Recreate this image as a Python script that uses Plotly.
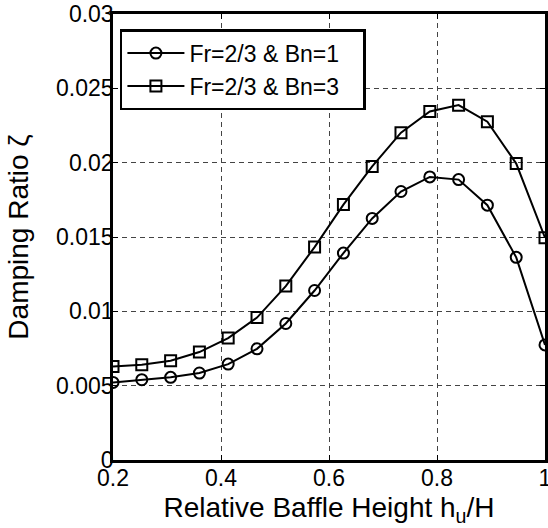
import plotly.graph_objects as go

# relative baffle height h_u/H
baffle_height = [0.2, 0.2533, 0.3067, 0.36, 0.4133, 0.4667, 0.52, 0.5733,
                 0.6267, 0.68, 0.7333, 0.7867, 0.84, 0.8933, 0.9467, 1.0]

# damping ratio, Fr=2/3 & Bn=1
damping_bn1 = [0.00522, 0.00540, 0.00556, 0.00585, 0.00645, 0.00748, 0.00918, 0.01140,
               0.01392, 0.01625, 0.01806, 0.01904, 0.01886, 0.01714, 0.01363, 0.00774]

# damping ratio, Fr=2/3 & Bn=3
damping_bn3 = [0.00629, 0.00640, 0.00668, 0.00726, 0.00820, 0.00958, 0.01170, 0.01432,
               0.01718, 0.01975, 0.02202, 0.02344, 0.02387, 0.02276, 0.01994, 0.01495]

series_names = ['Fr=2/3 & Bn=1\u00a0\u00a0\u00a0', 'Fr=2/3 & Bn=3\u00a0\u00a0\u00a0']

FONT = "Arial, 'Liberation Sans', sans-serif"

fig = go.Figure()

fig.add_trace(go.Scatter(
    x=baffle_height, y=damping_bn1, name=series_names[0],
    mode='lines+markers',
    line=dict(color='black', width=2),
    marker=dict(symbol='circle-open', size=11, color='black', line=dict(width=2))
))
fig.add_trace(go.Scatter(
    x=baffle_height, y=damping_bn3, name=series_names[1],
    mode='lines+markers',
    line=dict(color='black', width=2),
    marker=dict(symbol='square-open', size=11, color='black', line=dict(width=2))
))

fig.update_layout(
    width=548, height=528,
    margin=dict(l=113, r=3, t=14, b=68),
    paper_bgcolor='white',
    plot_bgcolor='white',
    font=dict(family=FONT, size=23, color='black'),
    showlegend=True,
    legend=dict(
        x=0.016, y=0.966, xanchor='left', yanchor='top',
        bgcolor='white', bordercolor='black', borderwidth=2.5,
        font=dict(size=23),
        itemwidth=57,
        tracegroupgap=2,
    ),
)

fig.update_xaxes(
    range=[0.2, 1.0],
    tickvals=[0.2, 0.4, 0.6, 0.8, 1.0],
    ticktext=['0.2', '0.4', '0.6', '0.8', '1'],
    showgrid=True, gridcolor='#444444', gridwidth=1, griddash='5px,4px',
    zeroline=False,
    showline=True, linecolor='black', linewidth=2.5, mirror='ticks',
    ticks='inside', ticklen=5, tickwidth=1, tickcolor='black',
    ticklabelstandoff=-4, ticklabeloverflow='allow',
    automargin=False,
    title=dict(text='Relative Baffle Height h<sub>u</sub>/H', standoff=8),
)

fig.update_yaxes(
    range=[0, 0.03],
    tickvals=[0, 0.005, 0.01, 0.015, 0.02, 0.025, 0.03],
    ticktext=['0', '0.005', '0.01', '0.015', '0.02', '0.025', '0.03'],
    showgrid=True, gridcolor='#444444', gridwidth=1, griddash='5px,4px',
    zeroline=False,
    showline=True, linecolor='black', linewidth=2.5, mirror='ticks',
    ticks='inside', ticklen=5, tickwidth=1, tickcolor='black',
    ticklabelstandoff=-8, ticklabeloverflow='allow',
    automargin=False,
    title=dict(text='Damping Ratio ζ', standoff=20),
)

# drop the default 8px page margin so the figure fills the window exactly
fig.write_html("out.html", config={'displayModeBar': False},
               post_script="document.body.style.margin='0';")
